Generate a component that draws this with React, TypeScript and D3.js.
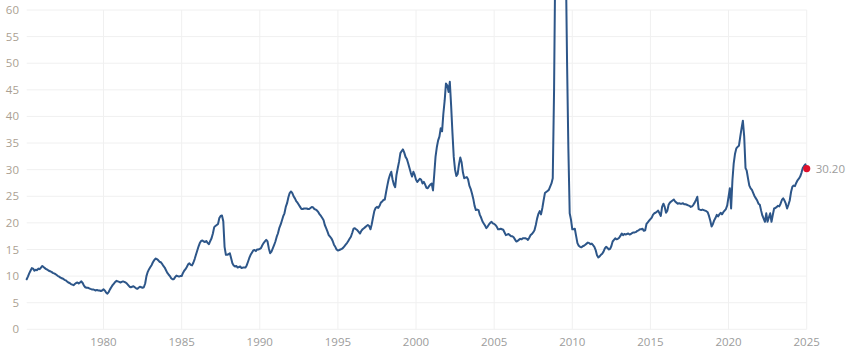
import React, { useMemo } from "react";
import * as d3 from "d3";

// Monthly P/E ratio values, starting February 1975, ending January 2025
const pe1975 = [9.4, 9.9, 10.5, 11.0, 11.5, 11.4, 11.0, 11.2, 11.1, 11.4, 11.3];
const pe1976_1979 = [
  11.6, 11.9, 11.7, 11.5, 11.3, 11.2, 11.0, 10.9, 10.8, 10.6, 10.5, 10.4,
  10.2, 10.0, 9.9, 9.7, 9.6, 9.5, 9.3, 9.2, 9.0, 8.8, 8.7, 8.5,
  8.4, 8.3, 8.5, 8.7, 8.8, 8.6, 8.8, 9.0, 8.7, 8.2, 7.9, 7.8,
  7.8, 7.7, 7.6, 7.5, 7.5, 7.4, 7.3, 7.4, 7.3, 7.3, 7.2, 7.3,
];
const pe1980_1984 = [
  7.5, 7.3, 6.9, 6.7, 7.0, 7.5, 7.9, 8.3, 8.6, 8.9, 9.1, 9.0,
  8.9, 8.8, 8.9, 9.0, 8.9, 8.8, 8.6, 8.3, 8.0, 7.9, 8.0, 8.1,
  7.9, 7.7, 7.6, 7.8, 8.0, 7.9, 7.8, 7.9, 8.6, 10.0, 10.8, 11.3,
  11.7, 12.1, 12.6, 13.0, 13.3, 13.2, 13.0, 12.7, 12.6, 12.3, 11.9, 11.6,
  11.1, 10.6, 10.3, 10.0, 9.6, 9.4, 9.4, 9.8, 10.1, 10.0, 9.9, 10.0,
];
const pe1985_1989 = [
  10.0, 10.6, 11.0, 11.3, 11.7, 12.2, 12.4, 12.1, 12.0, 12.5, 13.2, 14.0,
  14.8, 15.6, 16.2, 16.6, 16.7, 16.5, 16.4, 16.6, 16.2, 16.0, 16.6, 17.1,
  18.0, 19.2, 19.4, 19.6, 19.8, 20.9, 21.3, 21.4, 20.3, 15.5, 14.0, 14.0,
  14.1, 14.3, 13.4, 12.4, 12.0, 11.8, 11.9, 11.6, 11.7, 11.8, 11.5, 11.6,
  11.6, 11.6, 12.0, 12.7, 13.4, 14.0, 14.4, 14.8, 14.9, 14.7, 15.0, 15.0,
];
const pe1990_1994 = [
  15.1, 15.3, 15.8, 16.2, 16.5, 16.8, 16.5, 15.2, 14.3, 14.6, 15.2, 15.8,
  16.5, 17.4, 18.0, 19.0, 19.6, 20.4, 21.2, 21.8, 23.0, 23.7, 24.8, 25.6,
  25.9, 25.6, 25.0, 24.6, 24.1, 23.8, 23.4, 23.0, 22.6, 22.6, 22.7, 22.7,
  22.7, 22.6, 22.6, 22.8, 23.0, 22.9, 22.6, 22.5, 22.3, 22.0, 21.6, 21.3,
  20.9, 20.5, 19.6, 19.0, 18.4, 17.7, 17.4, 17.1, 16.6, 15.9, 15.5, 15.0,
];
const pe1995_1999 = [
  14.8, 14.9, 15.0, 15.1, 15.3, 15.6, 15.9, 16.2, 16.6, 17.0, 17.4, 18.1,
  18.9, 19.0, 18.8, 18.6, 18.3, 18.0, 18.5, 18.8, 19.0, 19.2, 19.4, 19.6,
  19.4, 18.8, 19.7, 21.0, 22.2, 22.8, 23.0, 22.8, 23.2, 23.8, 24.0, 24.3,
  24.4, 25.8, 27.0, 28.2, 29.0, 29.6, 28.2, 27.2, 26.7, 29.0, 30.3, 31.5,
  33.1, 33.5, 33.8, 33.2, 32.4, 32.0, 31.2, 30.3, 29.4, 28.7, 29.6, 29.0,
];
const pe2000_2004 = [
  28.1, 27.7, 28.0, 28.3, 28.1, 27.4, 27.7, 27.2, 26.6, 26.5, 26.9, 27.2,
  27.4, 26.1, 29.0, 32.4, 34.2, 35.5, 36.2, 37.8, 37.2, 40.5, 43.0, 46.2,
  45.8, 44.6, 46.5, 42.0, 37.0, 32.4, 30.0, 28.8, 29.2, 31.0, 32.3, 31.4,
  29.5, 28.4, 28.5, 28.6, 28.2, 27.0, 26.4, 25.5, 24.5, 23.2, 22.4, 22.5,
  22.4, 21.5, 21.0, 20.3, 19.9, 19.5, 19.0, 19.3, 19.7, 20.0, 20.2, 19.9,
];
const pe2005_2009 = [
  19.8, 19.6, 19.3, 18.8, 18.8, 18.9, 18.8, 18.7, 18.2, 17.7, 17.8, 17.9,
  17.7, 17.5, 17.5, 17.3, 16.9, 16.5, 16.6, 16.8, 17.0, 16.9, 17.1, 17.1,
  17.1, 17.0, 16.8, 17.2, 17.7, 17.9, 18.2, 18.6, 19.6, 20.8, 21.7, 22.2,
  21.6, 22.8, 24.2, 25.6, 25.8, 26.0, 26.2, 26.8, 27.4, 28.4, 45.0, 70.9,
  86.0, 101.0, 110.4, 119.9, 123.7, 122.4, 110.4, 70.0, 50.0, 34.0, 21.8, 20.6,
];
const pe2010_2014 = [
  18.8, 18.8, 18.9, 17.5, 16.2, 15.7, 15.5, 15.4, 15.6, 15.7, 15.9, 16.1,
  16.3, 16.2, 16.0, 16.1, 15.8, 15.5, 14.9, 13.9, 13.5, 13.7, 14.0, 14.2,
  14.6, 15.2, 15.5, 15.3, 15.0, 15.1, 15.6, 16.5, 16.8, 17.1, 16.9, 17.0,
  17.2, 17.6, 18.0, 17.7, 17.9, 17.8, 17.9, 18.0, 17.8, 17.9, 18.1, 18.2,
  18.2, 18.3, 18.5, 18.6, 18.8, 18.8, 18.9, 18.5, 18.6, 19.8, 20.1, 20.4,
];
const pe2015_2019 = [
  20.7, 21.0, 21.5, 21.8, 21.9, 22.1, 22.3, 21.8, 21.3, 23.0, 23.6, 23.0,
  21.9, 22.3, 23.4, 23.8, 24.0, 24.2, 24.4, 24.0, 23.8, 23.6, 23.7, 23.6,
  23.6, 23.7, 23.5, 23.5, 23.4, 23.3, 23.2, 23.0, 23.1, 23.4, 23.8, 24.3,
  24.9, 22.6, 22.5, 22.4, 22.5, 22.4, 22.3, 22.2, 22.0, 21.3, 20.4, 19.3,
  19.8, 20.5, 20.9, 21.5, 21.2, 21.6, 21.9, 21.6, 22.0, 22.3, 22.6, 23.3,
];
const pe2020_2025 = [
  24.9, 26.5, 22.7, 28.0, 31.2, 33.0, 34.0, 34.3, 34.5, 36.2, 37.8, 39.2,
  36.2, 30.3, 29.8, 28.3, 27.0, 26.5, 26.2, 25.6, 25.0, 24.6, 24.2, 23.6,
  23.4, 22.3, 21.4, 20.8, 20.2, 21.8, 20.2, 21.0, 21.8, 20.2, 21.5, 22.7,
  22.8, 23.0, 23.2, 23.1, 23.6, 24.3, 24.6, 24.2, 23.6, 22.7, 23.4, 24.2,
  25.8, 26.8, 27.0, 26.9, 27.5, 28.0, 28.3, 28.7, 29.4, 30.3, 30.7, 31.0,
  30.2,
];

const startYear = 1975;
const startMonth = 1; // February (0-based)
const yTicks = [0, 5, 10, 15, 20, 25, 30, 35, 40, 45, 50, 55, 60];
const xTickYears = [1980, 1985, 1990, 1995, 2000, 2005, 2010, 2015, 2020, 2025];

const W = 850;
const H = 357;
const margin = { left: 26.7, right: 43.3, top: 10, bottom: 27.7 };

export default function App() {
  const values = useMemo(
    () => [
      ...pe1975,
      ...pe1976_1979,
      ...pe1980_1984,
      ...pe1985_1989,
      ...pe1990_1994,
      ...pe1995_1999,
      ...pe2000_2004,
      ...pe2005_2009,
      ...pe2010_2014,
      ...pe2015_2019,
      ...pe2020_2025,
    ],
    []
  );
  const data = values.map((v, i) => ({
    date: new Date(startYear, startMonth + i, 1),
    value: v,
  }));

  const x = d3
    .scaleTime()
    .domain(d3.extent(data, (d) => d.date) as [Date, Date])
    .range([margin.left, W - margin.right]);
  const y = d3
    .scaleLinear()
    .domain([0, 60])
    .range([H - margin.bottom, margin.top]);

  const line = d3
    .line<{ date: Date; value: number }>()
    .x((d) => x(d.date))
    .y((d) => y(d.value));

  const last = data[data.length - 1];
  const x0 = margin.left;
  const x1 = W - margin.right;

  return (
    <svg
      width={W}
      height={H}
      style={{ position: "absolute", left: 0, top: 0, overflow: "hidden" }}
      fontFamily="'Open Sans', 'Noto Sans', sans-serif"
    >
      <rect width={W} height={H} fill="#ffffff" />
      {yTicks.map((t) => (
        <line
          key={"h" + t}
          x1={x0}
          x2={x1}
          y1={y(t)}
          y2={y(t)}
          stroke="#f0f0f0"
          strokeWidth={1}
        />
      ))}
      {xTickYears.map((yr) => {
        const xp = x(new Date(yr, 0, 1));
        return (
          <line
            key={"v" + yr}
            x1={xp}
            x2={xp}
            y1={y(60)}
            y2={y(0)}
            stroke="#f0f0f0"
            strokeWidth={1}
          />
        );
      })}
      {yTicks.map((t) => (
        <text
          key={"yl" + t}
          x={19}
          y={y(t)}
          dy="0.35em"
          textAnchor="end"
          fontSize={11.5}
          fill="#ab9f92"
        >
          {t}
        </text>
      ))}
      {xTickYears.map((yr) => (
        <text
          key={"xl" + yr}
          x={x(new Date(yr, 0, 1))}
          y={346}
          textAnchor="middle"
          fontSize={11.5}
          fill="#9c9c9c"
        >
          {yr}
        </text>
      ))}
      <path
        d={line(data) || ""}
        fill="none"
        stroke="#2d5689"
        strokeWidth={2}
        strokeLinejoin="round"
        strokeLinecap="round"
      />
      <circle cx={x(last.date)} cy={y(last.value)} r={3.6} fill="#e0102c" />
      <text
        x={x(last.date) + 9}
        y={y(last.value)}
        dy="0.35em"
        fontSize={11.5}
        fill="#9c9c9c"
      >
        {last.value.toFixed(2)}
      </text>
    </svg>
  );
}
